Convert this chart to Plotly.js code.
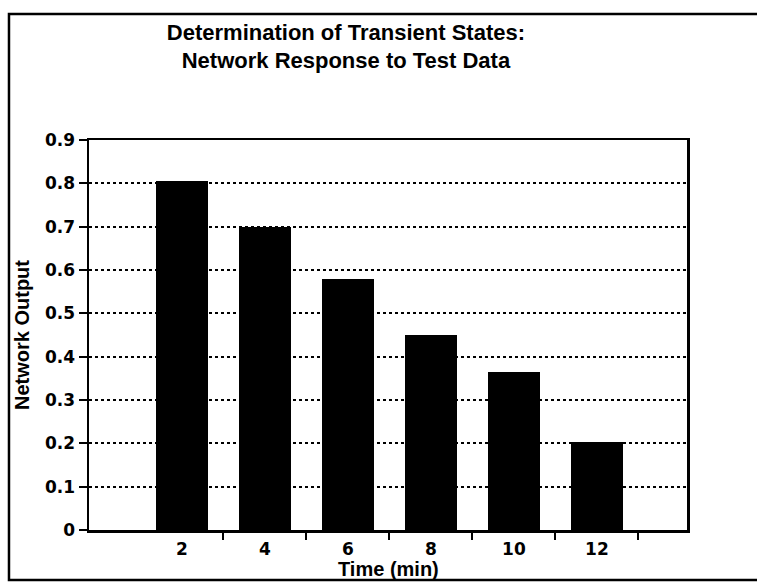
<!DOCTYPE html>
<html>
<head>
<meta charset="utf-8">
<script src="https://cdn.plot.ly/plotly-3.0.1.min.js"></script>
<style>
  html, body { margin: 0; padding: 0; background: #fff; }
  #chart { width: 757px; height: 582px; }
</style>
</head>
<body>
<div id="chart"></div>
<script>
// Data
const times = [2, 4, 6, 8, 10, 12];              // Time (min)
const networkOutput = [0.805, 0.70, 0.58, 0.45, 0.365, 0.203];
const timeTickLabels = ['2', '4', '6', '8', '10', '12'];
const boundaryTicks = [3, 5, 7, 9, 11, 13];       // tick marks between bars
const yTicks = [0, 0.1, 0.2, 0.3, 0.4, 0.5, 0.6, 0.7, 0.8, 0.9];
const yTickLabels = ['0', '0.1', '0.2', '0.3', '0.4', '0.5', '0.6', '0.7', '0.8', '0.9'];
const xTitle = 'Time (min)';
const yTitle = 'Network Output';

const xRange = [-0.24, 14.17];
const tickFont = { family: 'DejaVu Sans', size: 17, color: '#000', weight: 'bold' };
const titleFont = { family: 'Liberation Sans, Arial, sans-serif', size: 22, color: '#000', weight: 'bold' };
const axisTitleFont = { family: 'Liberation Sans, Arial, sans-serif', size: 20, color: '#000', weight: 'bold' };

const trace = {
  type: 'bar',
  x: times,
  y: networkOutput,
  width: 1.25,
  marker: { color: '#000', line: { width: 0 } },
  xaxis: 'x',
  yaxis: 'y',
  hoverinfo: 'x+y'
};

const layout = {
  width: 757,
  height: 582,
  margin: { l: 89, r: 70, t: 140, b: 52, pad: 0 },
  paper_bgcolor: '#fff',
  plot_bgcolor: '#fff',
  showlegend: false,
  bargap: 0,
  title: {
    text: 'Determination of Transient States:<br>Network Response to Test Data',
    font: titleFont,
    xref: 'container', x: 0.457, xanchor: 'center',
    yref: 'container', y: 0.932, yanchor: 'top'
  },
  xaxis: {
    type: 'linear',
    range: xRange,
    tickvals: boundaryTicks,
    ticktext: boundaryTicks.map(() => ''),
    ticks: 'outside', ticklen: 7, tickwidth: 2, tickcolor: '#000',
    showgrid: false, zeroline: false,
    showline: true, linecolor: '#000', linewidth: 2.5, mirror: true,
    fixedrange: true
  },
  xaxis2: {
    type: 'linear',
    overlaying: 'x', anchor: 'y', side: 'bottom',
    range: xRange,
    tickvals: times,
    ticktext: timeTickLabels,
    ticks: 'outside', ticklen: 4, tickcolor: 'rgba(0,0,0,0)',
    tickfont: tickFont,
    showgrid: false, zeroline: false, showline: false,
    fixedrange: true
  },
  yaxis: {
    range: [0, 0.9],
    tickvals: yTicks,
    ticktext: yTickLabels,
    ticks: 'outside', ticklen: 8, tickwidth: 2, tickcolor: '#000',
    tickfont: tickFont,
    showgrid: true, gridcolor: '#000', gridwidth: 1.8, griddash: 'dot',
    zeroline: false,
    showline: true, linecolor: '#000', linewidth: 2.5, mirror: true,
    title: { text: yTitle, font: axisTitleFont, standoff: 10 },
    fixedrange: true
  },
  annotations: [{
    text: xTitle, font: axisTitleFont, showarrow: false,
    xref: 'paper', yref: 'paper', x: 0.5, y: -0.1,
    xanchor: 'center', yanchor: 'middle'
  }],
  shapes: [{
    type: 'rect', xref: 'paper', yref: 'paper', layer: 'above',
    x0: -0.1338, x1: 1.13, y0: -0.128, y1: 1.323,
    line: { color: '#000', width: 2.5 }, fillcolor: 'rgba(0,0,0,0)'
  }]
};

// Invisible point on xaxis2 so the overlay label axis is drawn
const ghost = { type: 'scatter', x: [times[0]], y: [0], xaxis: 'x2', yaxis: 'y', mode: 'markers', marker: { opacity: 0 }, hoverinfo: 'skip' };

Plotly.newPlot('chart', [trace, ghost], layout, { displayModeBar: false, staticPlot: true });
</script>
</body>
</html>
